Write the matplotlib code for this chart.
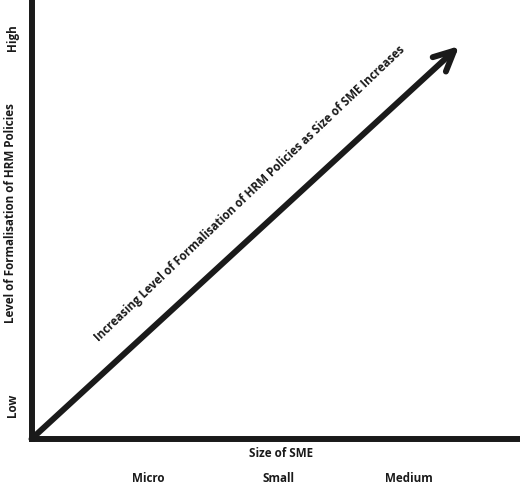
import matplotlib
matplotlib.use("Agg")
import matplotlib.pyplot as plt
import math

# Data
size_categories = ["Micro", "Small", "Medium"]
size_positions = [1, 2, 3]
level_labels = ["Low", "High"]
level_positions = [0, 1]
x_label = "Size of SME"
y_label = "Level of Formalisation of HRM Policies"
arrow_text = "Increasing Level of Formalisation of HRM Policies as Size of SME Increases"
arrow_start = (0.1, -0.0926)
arrow_end = (3.39, 0.978)

W, H = 520, 486
fig = plt.figure(figsize=(W / 100, H / 100), dpi=100)
plt.rcParams['font.family'] = ['Open Sans', 'DejaVu Sans']

left_px, bottom_px = 31.5, 439
ax = fig.add_axes([left_px / W, (H - bottom_px) / H, 1 - left_px / W, bottom_px / H])
ax.set_xlim(0.1, 0.1 + (W - left_px) / 130)
ax.set_ylim(-34 / 367, 1 + 38 / 367)
for s in ["top", "right"]:
    ax.spines[s].set_visible(False)
for s in ["left", "bottom"]:
    ax.spines[s].set_linewidth(4.3)
    ax.spines[s].set_color("#1a1a1a")
    ax.spines[s].set_capstyle("projecting")

txt_kw = dict(fontsize=8.4, fontweight="bold", color="#1a1a1a")
ax.set_xticks(size_positions)
ax.set_xticklabels(size_categories, **txt_kw)
ax.tick_params(axis="x", length=0, pad=23.5)
ax.set_yticks(level_positions)
ax.set_yticklabels(level_labels, rotation=90, va="center", **txt_kw)
ax.tick_params(axis="y", length=0, pad=9)

ax.text(0.51, -0.032, x_label, transform=ax.transAxes, ha="center", va="center", **txt_kw)
ax.text(-0.044, 0.515, y_label, transform=ax.transAxes, ha="center", va="center",
        rotation=90, **txt_kw)

ax.annotate("", xy=arrow_end, xytext=arrow_start, annotation_clip=False,
            arrowprops=dict(arrowstyle="->,head_length=1.45,head_width=0.7",
                            lw=4.3, color="#1a1a1a", shrinkA=0, shrinkB=0,
                            mutation_scale=10, capstyle="round", joinstyle="round"))

# text along arrow
disp_start = ax.transData.transform(arrow_start)
disp_end = ax.transData.transform(arrow_end)
ang = math.degrees(math.atan2(disp_end[1] - disp_start[1], disp_end[0] - disp_start[0]))
ax.text(1.78, 0.575, arrow_text, rotation=ang + 1.0, rotation_mode="anchor",
        ha="center", va="center", **txt_kw)

fig.savefig("out.png", dpi=100)
